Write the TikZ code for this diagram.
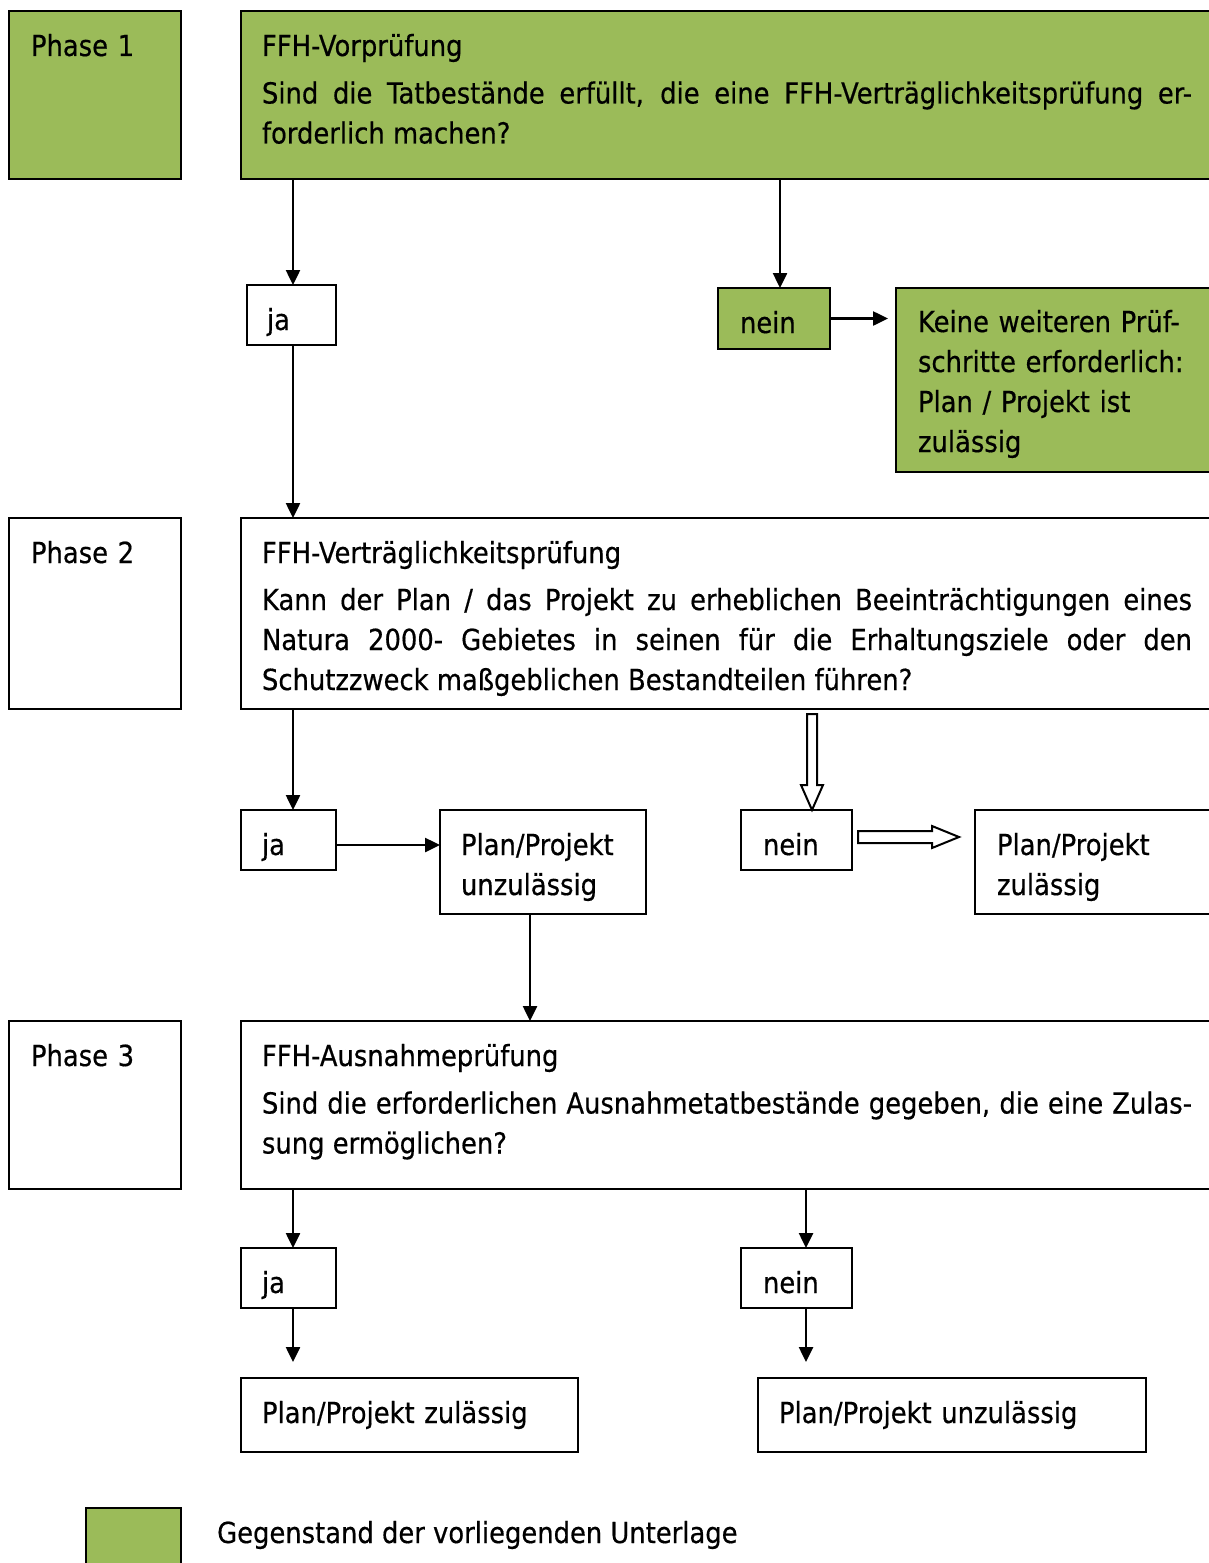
\documentclass[tikz,border=0pt]{standalone}
\usepackage{fontspec}
\setmainfont{DejaVu Sans}[FakeStretch=0.89, FakeBold=0.5]
\usepackage{xcolor}
\usepackage{tikz}
\usetikzlibrary{positioning, arrows.meta, calc}
\definecolor{ffhgreen}{HTML}{9BBB59}
\hyphenpenalty=10000

\begin{document}
\begin{tikzpicture}[x=1pt, y=-1pt,
    txt/.style={font=\fontsize{29}{40}\selectfont\sloppy},
    box/.style={txt, draw=black, line width=2pt, anchor=north west,
      inner xsep=0pt, inner ysep=0pt, outer sep=0pt, align=left,
      text height=45pt},
    para/.style={box, align=justify, minimum width=972pt, text width=930pt},
    arr/.style={-{Triangle[length=15pt,width=14pt]}, line width=2.5pt, black},
    hollow/.style={draw=black, line width=2pt, fill=white, line join=miter}]
\useasboundingbox (0,0) rectangle (1208,1563);

% --- Phase 1 ---
\node[box, fill=ffhgreen, minimum width=172pt, text width=128pt, text depth=123pt](ph1) at (9,11) {Phase 1};
\node[para, fill=ffhgreen, text depth=123pt](vor) at (241,11) {%
  FFH-Vorprüfung\par\vspace{7.5pt}
  Sind die Tatbestände erfüllt, die eine FFH-Verträglichkeitsprüfung er-\linebreak
  forderlich machen?};
\node[box, minimum width=89pt, text width=49pt, text depth=15pt](ja1) at (247,285) {ja};
\node[box, fill=ffhgreen, minimum width=112pt, text width=68pt, text depth=16pt](nein1) at (718,288) {nein};
\node[box, fill=ffhgreen, minimum width=350pt, text width=306pt, text height=44pt, text depth=140pt](keine) at (896,288) {%
  Keine weiteren Prüf-\\schritte erforderlich:\\Plan / Projekt ist\\zulässig};
\coordinate (c0) at ($(ja1.north)+(1.5,0)$);
\coordinate (c1) at ($(nein1.north)+(6,0)$);
\draw[arr](c0 |- vor.south) -- (c0);
\draw[arr](c1 |- vor.south) -- (c1);
\draw[arr,shorten >=8pt](nein1.east) -- (nein1.east -| keine.west);

% --- Phase 2 ---
\node[box, minimum width=172pt, text width=128pt, text depth=146pt](ph2) at (9,518) {Phase 2};
\node[para, text depth=146pt](vtp) at (241,518) {%
  FFH-Verträglichkeitsprüfung\par\vspace{7pt}
  Kann der Plan / das Projekt zu erheblichen Beeinträchtigungen eines\linebreak
  Natura 2000- Gebietes in seinen für die Erhaltungsziele oder den\linebreak
  Schutzzweck maßgeblichen Bestandteilen führen?};
\draw[arr](c0 |- ja1.south) -- (c0 |- vtp.north);

\node[box, minimum width=95pt, text width=53pt, text depth=15pt](ja2) at (241,810) {ja};
\node[box, minimum width=206pt, text width=164pt, text depth=59pt](unz) at (440,810) {Plan/Projekt\\unzulässig};
\node[box, minimum width=111pt, text width=67pt, text depth=15pt](nein2) at (741,810) {nein};
\node[box, minimum width=240pt, text width=196pt, text depth=59pt](zul) at (975,810) {Plan/Projekt\\zulässig};
\coordinate (c2) at ($(ja2.north)+(4.5,0)$);
\coordinate (c3) at ($(ja2.east)+(0,5)$);
\draw[arr](c2 |- vtp.south) -- (c2);
\draw[arr](c3) -- (c3 -| unz.west);
\draw[hollow]($(nein2.north)+(15.5,0)$) -- ++(-11,-25) -- ++(6,0) -- ++(0,-71)
  -- ++(10,0) -- ++(0,71) -- ++(6,0) -- cycle;
\coordinate (c4) at ($(zul.west |- nein2.east)+(-16,-3)$);
\draw[hollow](c4) -- ++(-27,-11) -- ++(0,5) -- ++(-74,0) -- ++(0,12)
  -- ++(74,0) -- ++(0,5) -- cycle;

% --- Phase 3 ---
\node[box, minimum width=172pt, text width=128pt, text depth=123pt](ph3) at (9,1021) {Phase 3};
\node[para, text depth=123pt](aus) at (241,1021) {%
  FFH-Ausnahmeprüfung\par\vspace{7.5pt}
  Sind die erforderlichen Ausnahmetatbestände gegeben, die eine Zulas-\linebreak
  sung ermöglichen?};
\coordinate (c5) at ($(unz.south)+(-13,0)$);
\draw[arr](c5) -- (c5 |- aus.north);

\node[box, minimum width=95pt, text width=53pt, text depth=15pt](ja3) at (241,1248) {ja};
\node[box, minimum width=111pt, text width=67pt, text depth=15pt](nein3) at (741,1248) {nein};
\node[box, minimum width=337pt, text width=295pt, text depth=29pt](zul3) at (241,1378) {Plan/Projekt zulässig};
\node[box, minimum width=388pt, text width=346pt, text depth=29pt](unz3) at (758,1378) {Plan/Projekt unzulässig};
\foreach \s/\t/\dx in {ja3/zul3/4.5, nein3/unz3/9.5}{
  \coordinate (top\s) at ($(\s.north)+(\dx,0)$);
  \draw[arr](top\s |- aus.south) -- (top\s);
  \draw[arr,shorten >=16pt](top\s |- \s.south) -- (top\s |- \t.north);}

% --- legend ---
\node[box, fill=ffhgreen, minimum width=95pt, minimum height=70pt, text height=0pt, text depth=70pt](lgd) at (86,1508) {};
\node[txt, anchor=base west, inner sep=0pt](lgdtxt) at (217,1543) {Gegenstand der vorliegenden Unterlage};
\end{tikzpicture}
\end{document}
